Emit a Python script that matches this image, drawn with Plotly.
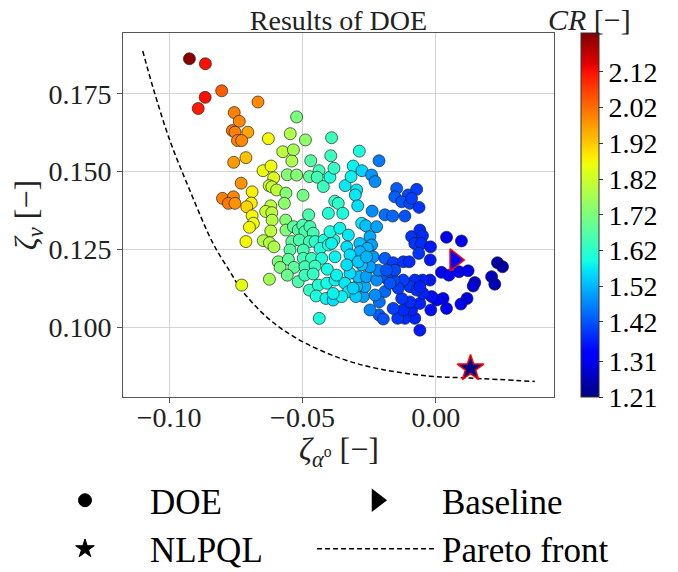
import numpy as np
import plotly.graph_objects as go

# ---------------- data ----------------
# DOE samples: zeta_alpha, zeta_v and compression ratio CR
doe_zeta_alpha = [
    -0.0924, -0.0864, -0.0803, -0.0865, -0.0891, -0.0667, -0.0756, -0.0737, -0.0763, -0.0753,
    -0.0705, -0.0744, -0.0728, -0.0628, -0.0522, -0.0546, -0.0489, -0.0391, -0.0574, -0.0534,
    -0.0540, -0.0469, -0.0394, -0.0758, -0.0712, -0.0648, -0.0618, -0.0608, -0.0625, -0.0615,
    -0.0597, -0.0557, -0.0522, -0.0474, -0.0438, -0.0445, -0.0422, -0.0397, -0.0382, -0.0340,
    -0.0730, -0.0689, -0.0800, -0.0759, -0.0778, -0.0753, -0.0692, -0.0709, -0.0562, -0.0568,
    -0.0498, -0.0379, -0.0366, -0.0619, -0.0638, -0.0615, -0.0689, -0.0684, -0.0699, -0.0614,
    -0.0563, -0.0477, -0.0619, -0.0349, -0.0403,
    -0.0562, -0.0534, -0.0516, -0.0499, -0.0491, -0.0472, -0.0460, -0.0712, -0.0647, -0.0624,
    -0.0607, -0.0540, -0.0512, -0.0474, -0.0453, -0.0419, -0.0382, -0.0547, -0.0497, -0.0434,
    -0.0403, -0.0591, -0.0553, -0.0497, -0.0466, -0.0428, -0.0378, -0.0584, -0.0532, -0.0491,
    -0.0453, -0.0407, -0.0624, -0.0557, -0.0516, -0.0491, -0.0460, -0.0728, -0.0474, -0.0441,
    -0.0409, -0.0378, -0.0449, -0.0412, -0.0385, -0.0437,
    -0.0287, -0.0213, -0.0310, -0.0277, -0.0318, -0.0241, -0.0228, -0.0297, -0.0302, -0.0293,
    -0.0147, -0.0104, -0.0072, -0.0154, -0.0128, -0.0097, -0.0063, -0.0091, -0.0239, -0.0191,
    -0.0162, -0.0116, -0.0397, -0.0360, -0.0328, -0.0278, -0.0263, -0.0247, -0.0222, -0.0241,
    -0.0285, -0.0257, -0.0334, -0.0391, -0.0235, -0.0191, -0.0160, -0.0122, -0.0100, -0.0091,
    -0.0060, -0.0050, -0.0079, -0.0054, -0.0064, -0.0020, -0.0021, 0.0040, 0.0096, 0.0021,
    0.0049, 0.0087, 0.0121, 0.0146, 0.0140, 0.0209, 0.0221, 0.0231, 0.0250, 0.0117,
    0.0094, 0.0040, 0.0027, 0.0003, -0.0016, -0.0019, -0.0060, -0.0079, -0.0116, -0.0143,
    -0.0091, -0.0122, -0.0160, -0.0060, -0.0097, -0.0128, -0.0048, -0.0022, -0.0050, -0.0079,
    -0.0097, -0.0072, -0.0122, -0.0141, -0.0157, -0.0154, -0.0185, -0.0191, -0.0212, -0.0213,
    -0.0197, -0.0247, -0.0228, -0.0272, -0.0266, -0.0297, -0.0291, -0.0260, -0.0222, -0.0216,
    -0.0247, -0.0278, -0.0322, -0.0341, -0.0328, -0.0353, -0.0300, -0.0385,
    -0.0285, -0.0322, -0.0334, -0.0291, -0.0260, -0.0372, -0.0310, -0.0172, -0.0060, -0.0185,
]
doe_zeta_v = [
    0.1863, 0.1847, 0.1760, 0.1739, 0.1703, 0.1724, 0.1690, 0.1662, 0.1632, 0.1627,
    0.1627, 0.1600, 0.1600, 0.1606, 0.1676, 0.1622, 0.1602, 0.1609, 0.1564, 0.1570,
    0.1534, 0.1535, 0.1551, 0.1530, 0.1545, 0.1503, 0.1518, 0.1480, 0.1455, 0.1451,
    0.1441, 0.1490, 0.1489, 0.1484, 0.1503, 0.1482, 0.1452, 0.1482, 0.1511, 0.1455,
    0.1463, 0.1435, 0.1414, 0.1419, 0.1398, 0.1398, 0.1399, 0.1387, 0.1431, 0.1398,
    0.1424, 0.1405, 0.1398, 0.1390, 0.1372, 0.1368, 0.1358, 0.1334, 0.1321, 0.1344,
    0.1344, 0.1361, 0.1309, 0.1366, 0.1366,
    0.1312, 0.1323, 0.1312, 0.1328, 0.1307, 0.1323, 0.1302, 0.1275, 0.1278, 0.1271,
    0.1258, 0.1275, 0.1280, 0.1275, 0.1275, 0.1280, 0.1280, 0.1248, 0.1248, 0.1253,
    0.1264, 0.1210, 0.1218, 0.1221, 0.1221, 0.1221, 0.1226, 0.1192, 0.1192, 0.1194,
    0.1196, 0.1186, 0.1154, 0.1167, 0.1146, 0.1167, 0.1171, 0.1135, 0.1119, 0.1135,
    0.1141, 0.1151, 0.1100, 0.1092, 0.1087, 0.1028,
    0.1566, 0.1535, 0.1518, 0.1503, 0.1484, 0.1489, 0.1468, 0.1441, 0.1425, 0.1390,
    0.1446, 0.1425, 0.1443, 0.1419, 0.1403, 0.1398, 0.1385, 0.1414, 0.1373, 0.1361,
    0.1357, 0.1357, 0.1307, 0.1318, 0.1296, 0.1334, 0.1326, 0.1291, 0.1323, 0.1264,
    0.1269, 0.1253, 0.1258, 0.1269, 0.1226, 0.1221, 0.1207, 0.1210, 0.1210, 0.1291,
    0.1312, 0.1294, 0.1269, 0.1269, 0.1237, 0.1258, 0.1216, 0.1289, 0.1277, 0.1176,
    0.1167, 0.1178, 0.1181, 0.1143, 0.1132, 0.1162, 0.1138, 0.1207, 0.1194, 0.1092,
    0.1074, 0.1060, 0.1092, 0.1087, 0.1098, 0.1055, 0.0990, 0.1028, 0.1028, 0.1028,
    0.1055, 0.1055, 0.1060, 0.1076, 0.1081, 0.1092, 0.1108, 0.1151, 0.1151, 0.1151,
    0.1130, 0.1119, 0.1151, 0.1125, 0.1151, 0.1183, 0.1157, 0.1114, 0.1081, 0.1039,
    0.1026, 0.1055, 0.1103, 0.1098, 0.1130, 0.1130, 0.1162, 0.1162, 0.1151, 0.1183,
    0.1194, 0.1200, 0.1173, 0.1141, 0.1114, 0.1098, 0.1098, 0.1108,
    0.1242, 0.1232, 0.1200, 0.1210, 0.1226, 0.1167, 0.1125, 0.1141, 0.1130, 0.1183,
]
doe_cr = [
    2.22, 2.12, 2.04, 2.12, 2.11, 1.99, 2.00, 1.99, 2.01, 2.00,
    1.96, 2.00, 1.99, 1.87, 1.72, 1.78, 1.74, 1.64, 1.80, 1.77,
    1.78, 1.67, 1.64, 1.97, 1.93, 1.86, 1.86, 1.84, 1.82, 1.81,
    1.80, 1.73, 1.73, 1.68, 1.65, 1.65, 1.64, 1.60, 1.63, 1.57,
    1.98, 1.88, 2.00, 1.99, 2.01, 1.98, 1.88, 1.91, 1.73, 1.74,
    1.71, 1.63, 1.62, 1.80, 1.81, 1.80, 1.87, 1.86, 1.87, 1.79,
    1.73, 1.66, 1.80, 1.60, 1.61,
    1.73, 1.68, 1.67, 1.66, 1.66, 1.65, 1.65, 1.87, 1.79, 1.79,
    1.78, 1.68, 1.66, 1.65, 1.62, 1.60, 1.59, 1.67, 1.65, 1.60,
    1.59, 1.72, 1.68, 1.65, 1.64, 1.60, 1.58, 1.72, 1.68, 1.65,
    1.64, 1.59, 1.77, 1.70, 1.66, 1.64, 1.63, 1.85, 1.63, 1.61,
    1.59, 1.58, 1.60, 1.58, 1.56, 1.60,
    1.60, 1.46, 1.58, 1.55, 1.58, 1.49, 1.48, 1.57, 1.57, 1.56,
    1.43, 1.41, 1.40, 1.43, 1.42, 1.41, 1.39, 1.40, 1.48, 1.45,
    1.44, 1.42, 1.60, 1.58, 1.57, 1.57, 1.53, 1.51, 1.50, 1.50,
    1.53, 1.52, 1.56, 1.58, 1.49, 1.43, 1.40, 1.39, 1.38, 1.39,
    1.38, 1.38, 1.39, 1.38, 1.39, 1.36, 1.36, 1.31, 1.31, 1.33,
    1.33, 1.32, 1.31, 1.29, 1.29, 1.27, 1.26, 1.25, 1.24, 1.30,
    1.31, 1.32, 1.33, 1.34, 1.35, 1.35, 1.36, 1.37, 1.38, 1.39,
    1.37, 1.38, 1.40, 1.37, 1.38, 1.39, 1.37, 1.36, 1.37, 1.38,
    1.39, 1.38, 1.40, 1.40, 1.41, 1.41, 1.42, 1.44, 1.45, 1.43,
    1.42, 1.47, 1.48, 1.50, 1.51, 1.53, 1.53, 1.50, 1.48, 1.47,
    1.50, 1.53, 1.56, 1.57, 1.57, 1.58, 1.54, 1.58,
    1.52, 1.56, 1.56, 1.54, 1.52, 1.58, 1.55, 1.42, 1.37, 1.42,
]

# Baseline design and NLPQL optimum
baseline_zeta_alpha = [0.0071]
baseline_zeta_v = [0.1216]
baseline_cr = [1.33]
nlpql_zeta_alpha = [0.0130]
nlpql_zeta_v = [0.0867]
nlpql_cr = [1.22]

# Pareto front
pareto_zeta_alpha = [-0.1099, -0.1061, -0.0998, -0.0923, -0.0836, -0.0773, -0.0728,
                     -0.0634, -0.0525, -0.0360, -0.0210, -0.0023, 0.0128, 0.0371]
pareto_zeta_v = [0.1888, 0.1772, 0.1602, 0.1441, 0.1270, 0.1180, 0.1119,
                 0.1032, 0.0965, 0.0900, 0.0865, 0.0842, 0.0836, 0.0825]

# axes / colour bar ticks
x_ticks = [-0.10, -0.05, 0.00]
x_tick_text = ["\u22120.10", "\u22120.05", "0.00"]
y_ticks = [0.100, 0.125, 0.150, 0.175]
y_tick_text = ["0.100", "0.125", "0.150", "0.175"]
cr_ticks = [1.21, 1.31, 1.42, 1.52, 1.62, 1.72, 1.82, 1.92, 2.02, 2.12]
cr_tick_text = ["1.21", "1.31", "1.42", "1.52", "1.62", "1.72", "1.82", "1.92", "2.02", "2.12"]
cr_min, cr_max = 1.21, 2.229


# ---------------- jet colour map ----------------
def jet_rgb(t):
    r = np.interp(t, [0, 0.35, 0.66, 0.89, 1], [0, 0, 1, 1, 0.5])
    g = np.interp(t, [0, 0.125, 0.375, 0.64, 0.91, 1], [0, 0, 1, 1, 0, 0])
    b = np.interp(t, [0, 0.11, 0.34, 0.65, 1], [0.5, 1, 1, 0, 0])
    return "rgb(%d,%d,%d)" % (round(r * 255), round(g * 255), round(b * 255))


jet = [[float(s), jet_rgb(s)] for s in np.linspace(0, 1, 65)]

SERIF = "Liberation Serif"
FRAME = "#555555"

FIG_W, FIG_H = 678, 572
# plot area in pixels (used to place the legends / titles)
PLOT_L, PLOT_R, PLOT_T, PLOT_B = 123, 554, 33, 397
PLOT_W, PLOT_H = PLOT_R - PLOT_L, PLOT_B - PLOT_T

# legends sit below the axes; a container-referenced legend reserves
# (FIG_H - LEGEND_TOP) px of bottom margin on top of margin.b
LEGEND_TOP = 471
RESERVED_B = FIG_H - LEGEND_TOP

fig = go.Figure()

fig.add_trace(go.Scatter(
    x=pareto_zeta_alpha, y=pareto_zeta_v, mode="lines",
    line=dict(color="black", width=1.5, dash="5px,3px", shape="spline"),
    showlegend=False, hoverinfo="skip",
))

fig.add_trace(go.Scatter(
    x=doe_zeta_alpha, y=doe_zeta_v, mode="markers", showlegend=False,
    marker=dict(
        size=12, color=doe_cr, colorscale=jet, cmin=cr_min, cmax=cr_max,
        line=dict(color="rgba(30,30,30,0.85)", width=0.8),
        colorbar=dict(
            thickness=18, thicknessmode="pixels",
            len=PLOT_H, lenmode="pixels",
            x=(581 - PLOT_L) / PLOT_W, xanchor="left", xpad=0,
            y=1.0, yanchor="top", ypad=0,
            outlinewidth=1, outlinecolor="#333333",
            tickvals=cr_ticks, ticktext=cr_tick_text,
            ticks="outside", ticklen=4, tickcolor="#333333",
            tickfont=dict(family=SERIF, size=28, color="black"),
        ),
    ),
))

fig.add_trace(go.Scatter(
    x=baseline_zeta_alpha, y=baseline_zeta_v, mode="markers", showlegend=False,
    marker=dict(symbol="triangle-right", size=19, color=baseline_cr, colorscale=jet,
                cmin=cr_min, cmax=cr_max, line=dict(color="red", width=1.5)),
))

fig.add_trace(go.Scatter(
    x=nlpql_zeta_alpha, y=nlpql_zeta_v, mode="markers", showlegend=False,
    marker=dict(symbol="star", size=20, color=nlpql_cr, colorscale=jet,
                cmin=cr_min, cmax=cr_max, line=dict(color="red", width=1.5)),
))

# legend entries (black glyphs), two columns -> two legends
legend_items = [
    ("DOE", "legend", dict(mode="markers", marker=dict(
        symbol="circle", size=13, color="black", line=dict(color="black", width=1)))),
    ("NLPQL", "legend", dict(mode="markers", marker=dict(
        symbol="star", size=14, color="black", line=dict(color="black", width=1)))),
    ("Baseline", "legend2", dict(mode="markers", marker=dict(
        symbol="triangle-right", size=16, color="black", line=dict(color="black", width=2.5)))),
    ("Pareto front", "legend2", dict(mode="lines", line=dict(color="black", width=1.5, dash="5px,3px"))),
]
for name, leg, style in legend_items:
    fig.add_trace(go.Scatter(x=[None], y=[None], name=name, legend=leg, legendgroup=name,
                             showlegend=True, **style))

legend_common = dict(
    orientation="v", xref="paper", yref="container",
    xanchor="left", y=1 - LEGEND_TOP / FIG_H, yanchor="top",
    font=dict(family=SERIF, size=35, color="black"),
    itemwidth=120, bgcolor="rgba(0,0,0,0)", traceorder="normal",
    tracegroupgap=4,
)

fig.update_layout(
    width=FIG_W, height=FIG_H,
    margin=dict(l=PLOT_L, r=FIG_W - PLOT_R, t=PLOT_T, b=FIG_H - PLOT_B - RESERVED_B),
    paper_bgcolor="white", plot_bgcolor="white",
    font=dict(family=SERIF, color="black"),
    title=dict(text="Results of DOE", x=0.5, xref="paper", y=1 - 20 / FIG_H, yref="container",
               xanchor="center", yanchor="middle",
               font=dict(family=SERIF, size=28, color="#222222")),
    showlegend=True,
    legend=dict(x=(20 - PLOT_L) / PLOT_W, **legend_common),
    legend2=dict(x=(312 - PLOT_L) / PLOT_W, **legend_common),
    annotations=[
        # colour bar title
        dict(text="<i>CR</i> [\u2212]", x=(589 - PLOT_L) / PLOT_W, y=1 + 13 / PLOT_H,
             xref="paper", yref="paper", xanchor="center", yanchor="middle",
             showarrow=False, font=dict(family=SERIF, size=30, color="#222222")),
        # x-axis title
        dict(text="<i>\u03b6</i><sub><i>\u03b1</i><sup>o</sup></sub> [\u2212]",
             x=0.5, y=-(452 - PLOT_B) / PLOT_H, xref="paper", yref="paper",
             xanchor="center", yanchor="middle", showarrow=False,
             font=dict(family=SERIF, size=32, color="#222222")),
    ],
)

fig.update_xaxes(
    range=[-0.1173, 0.0443], tickvals=x_ticks, ticktext=x_tick_text,
    tickfont=dict(family=SERIF, size=28, color="#222222"),
    showgrid=True, gridcolor="#d4d4d4", gridwidth=1, zeroline=False,
    showline=True, linecolor=FRAME, linewidth=1, mirror=True,
    ticks="outside", ticklen=5, tickcolor=FRAME, automargin=False,
    ticklabelstandoff=-10,
)
fig.update_yaxes(
    range=[0.0775, 0.1946], tickvals=y_ticks, ticktext=y_tick_text,
    tickfont=dict(family=SERIF, size=28, color="#222222"),
    showgrid=True, gridcolor="#d4d4d4", gridwidth=1, zeroline=False,
    showline=True, linecolor=FRAME, linewidth=1, mirror=True,
    ticks="outside", ticklen=5, tickcolor=FRAME, automargin=False,
    title=dict(text="<i>\u03b6</i><sub><i>v</i></sub> [\u2212]",
               font=dict(family=SERIF, size=32, color="#222222"), standoff=0),
)

fig.write_html("out.html")
